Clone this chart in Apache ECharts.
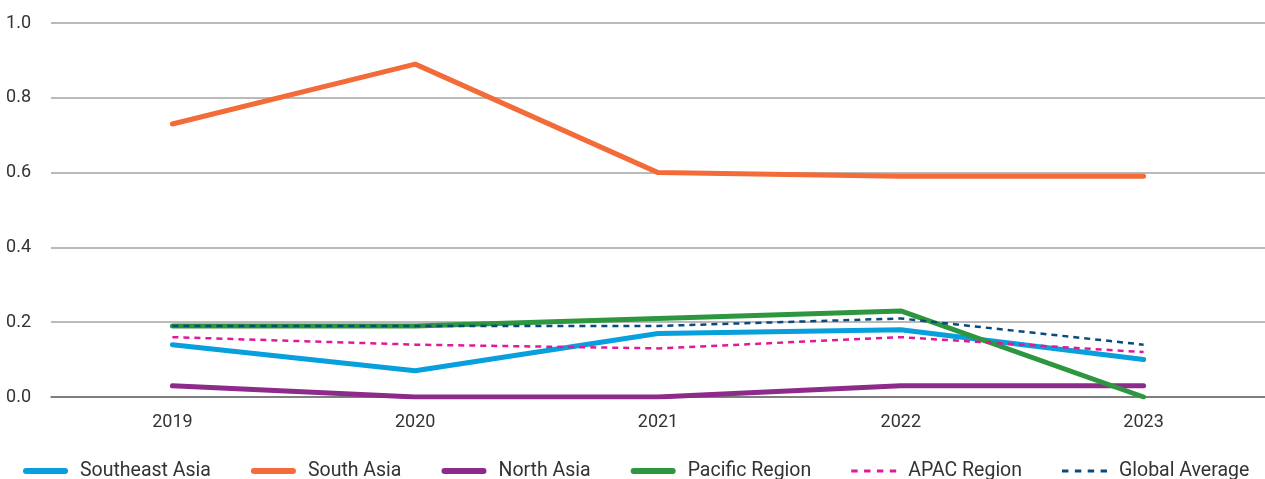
<!DOCTYPE html>
<html>
<head>
<meta charset="utf-8">
<script src="https://cdn.jsdelivr.net/npm/echarts@6/dist/echarts.min.js"></script>
<style>
  html, body { margin: 0; padding: 0; background: #fff; }
  #chart { width: 1265px; height: 479px; }
</style>
</head>
<body>
<div id="chart"></div>
<script>
// Years on the category axis
const years = ['2019', '2020', '2021', '2022', '2023'];

// Regional values per year
const southeastAsia = [0.14, 0.07, 0.17, 0.18, 0.10];
const southAsia     = [0.73, 0.89, 0.60, 0.59, 0.59];
const northAsia     = [0.03, 0.00, 0.00, 0.03, 0.03];
const pacificRegion = [0.19, 0.19, 0.21, 0.23, 0.00];
const apacRegion    = [0.16, 0.14, 0.13, 0.16, 0.12];
const globalAverage = [0.19, 0.19, 0.19, 0.21, 0.14];

const FONT = 'Roboto, "Noto Sans", sans-serif';

// Legend keys: a rounded bar for solid lines, four short dashes for dashed lines
const SOLID_ICON = 'path://M3,0H42A3,3 0 0 1 42,6H3A3,3 0 0 1 3,0Z';
const DASH_ICON = 'path://M0,0h6v2.6h-6zM12,0h6v2.6h-6zM24,0h6v2.6h-6zM36,0h6v2.6h-6z';

function solid(name, data, color) {
  return {
    name, type: 'line', data, symbol: 'none', smooth: false,
    lineStyle: { color, width: 5, cap: 'round', join: 'round' },
    itemStyle: { color }
  };
}
function dashed(name, data, color) {
  return {
    name, type: 'line', data, symbol: 'none', smooth: false,
    lineStyle: { color, width: 2.5, type: [6, 5] },
    itemStyle: { color }
  };
}

const chart = echarts.init(document.getElementById('chart'), null, { renderer: 'canvas' });
chart.setOption({
  animation: false,
  grid: { left: 51, right: 0, top: 23, bottom: 82, containLabel: false },
  xAxis: {
    type: 'category',
    data: years,
    boundaryGap: true,
    axisLine: { show: true, lineStyle: { color: '#6b6b6b', width: 1.5 } },
    axisTick: { show: false },
    axisLabel: { color: '#333', fontSize: 18, fontFamily: FONT, margin: 16 }
  },
  yAxis: {
    type: 'value',
    min: 0, max: 1, interval: 0.2,
    axisLine: { show: false },
    axisTick: { show: false },
    axisLabel: {
      color: '#333', fontSize: 18, fontFamily: FONT, margin: 20,
      formatter: v => v.toFixed(1)
    },
    splitLine: { lineStyle: { color: '#a3a3a3', width: 1.5 } }
  },
  legend: {
    bottom: -7, left: 18,
    itemWidth: 45, itemHeight: 6, itemGap: 40,
    symbolKeepAspect: true,
    textStyle: { color: '#333', fontSize: 19.5, fontFamily: FONT, padding: [0, 0, 0, 7] },
    data: [
      { name: 'Southeast Asia', icon: SOLID_ICON },
      { name: 'South Asia', icon: SOLID_ICON },
      { name: 'North Asia', icon: SOLID_ICON },
      { name: 'Pacific Region', icon: SOLID_ICON },
      { name: 'APAC Region', icon: DASH_ICON },
      { name: 'Global Average', icon: DASH_ICON }
    ]
  },
  series: [
    solid('Southeast Asia', southeastAsia, '#079fdc'),
    solid('South Asia', southAsia, '#f26b38'),
    solid('North Asia', northAsia, '#8d2b8b'),
    solid('Pacific Region', pacificRegion, '#2e963f'),
    dashed('APAC Region', apacRegion, '#e2189b'),
    dashed('Global Average', globalAverage, '#0b4a7c')
  ]
});
</script>
</body>
</html>
